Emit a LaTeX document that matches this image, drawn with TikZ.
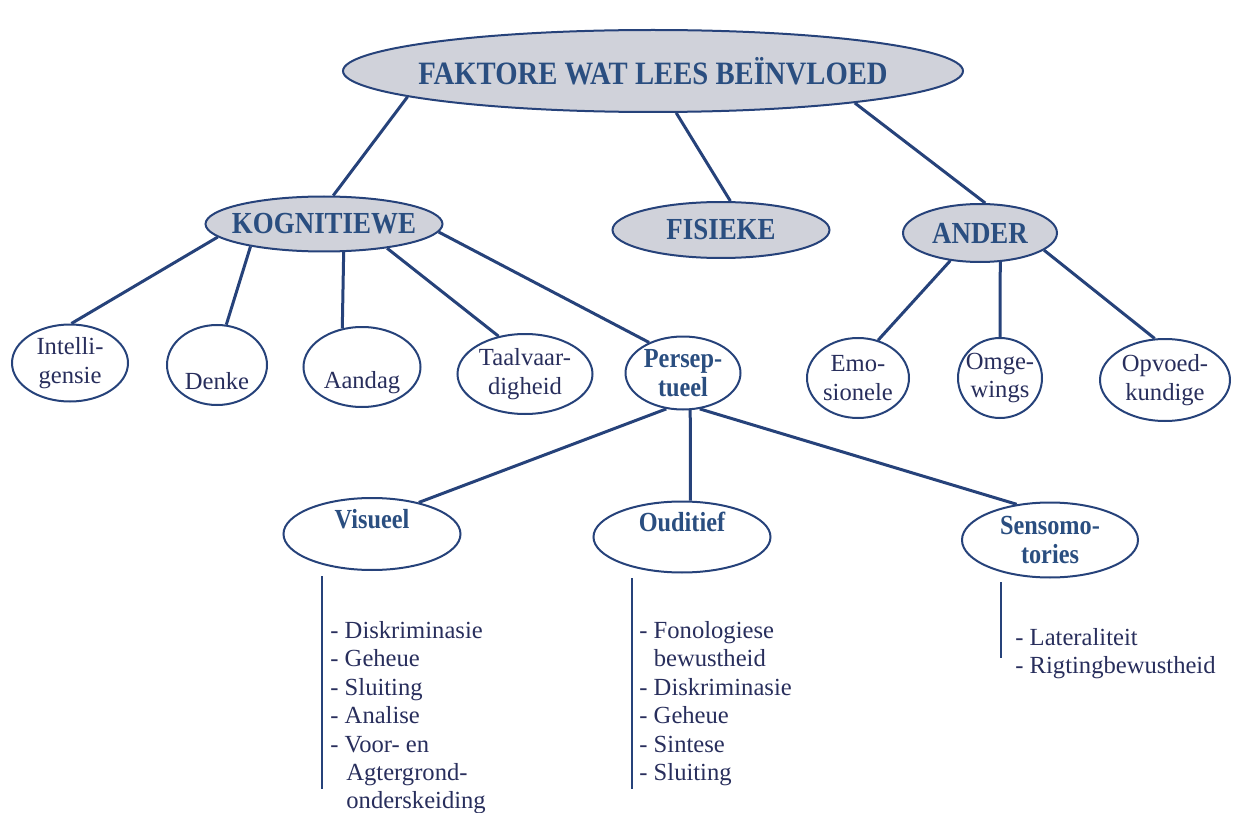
\documentclass[tikz,border=0pt]{standalone}
\usepackage{fontspec}
\setmainfont{Liberation Serif}
\newfontfamily\smal[FakeStretch=0.88]{Liberation Serif}
\usetikzlibrary{shapes.geometric}
\definecolor{lyn}{RGB}{38,66,122}
\definecolor{ink}{RGB}{40,46,92}
\definecolor{kop}{RGB}{42,78,128}
\definecolor{stip}{RGB}{208,210,218}
\tikzset{
  oval/.style={ellipse, draw=lyn, line width=1pt, inner sep=-6pt, align=center,
    text=ink, font=\fontsize{12.3}{14.2}\selectfont},
  kopoval/.style={oval, fill=stip, text=kop, font=\smal\fontsize{15.3}{17}\selectfont\bfseries},
  vet/.style={text=kop, font=\smal\fontsize{13.8}{14.2}\selectfont\bfseries},
  lys/.style={anchor=north west, inner sep=0pt, align=left, text=ink,
    font=\fontsize{12.3}{14.2}\selectfont},
  tak/.style={draw=lyn, line width=1.5pt}
}
\begin{document}
\begin{tikzpicture}[x=0.5pt, y=-0.5pt]
  \useasboundingbox (0,0) rectangle (1233,813);
  % top levels
  \node[kopoval, minimum width=310pt, minimum height=41pt, inner xsep=-20pt,
    font=\smal\fontsize{16.3}{18}\selectfont\bfseries] (main) at (653,71) {FAKTORE WAT LEES BEÏNVLOED};
  \node[kopoval, minimum width=118.5pt, minimum height=27.5pt] (kog) at (324,224) {KOGNITIEWE};
  \node[kopoval, minimum width=108.5pt, minimum height=28pt] (fis) at (721,230) {FISIEKE};
  \node[kopoval, minimum width=77pt, minimum height=29pt] (ander) at (980,233) {ANDER};
  \draw[tak] (main.186) -- (kog.72);
  \draw[tak] (main.299) -- (fis.72);
  \draw[tak] (main.-9) -- (ander.80);
  % kognitiewe en ander
  \node[oval, minimum width=58pt, minimum height=38.5pt] (intel) at (70,363) {Intelli-\\gensie};
  \node[oval, minimum width=50pt, minimum height=40pt] (denk) at (217,365) {\strut\\Denke};
  \node[oval, minimum width=58.5pt, minimum height=40pt] (aand) at (362,367) {\strut\\Aandag};
  \node[oval, minimum width=67.5pt, minimum height=40pt] (taal) at (525,374) {Taalvaar-\\digheid};
  \node[oval, vet, minimum width=57.5pt, minimum height=36.5pt] (pers) at (683,373) {Persep-\\tueel};
  \node[oval, minimum width=51pt, minimum height=40pt] (emo) at (858,378) {Emo-\\sionele};
  \node[oval, minimum width=42pt, minimum height=40pt] (omge) at (1000,378) {Omge-\\wings};
  \node[oval, minimum width=65pt, minimum height=41pt] (opv) at (1165,380) {Opvoed-\\kundige};
  \draw[tak] (kog.187) -- (intel.88);
  \draw[tak] (kog.197) -- (denk.77);
  \draw[tak] (kog.305) -- (aand.117);
  \draw[tak] (kog.339) -- (taal.125);
  \draw[tak] (kog.356) -- (pers.138);
  \draw[tak] (ander.223) -- (emo.62);
  \draw[tak] (ander.305) -- (omge.90);
  \draw[tak] (ander.345) -- (opv.104);
  % persepsie
  \node[oval, vet, minimum width=88.5pt, minimum height=36pt] (vis) at (372,534) {Visueel\\[-3pt]\strut};
  \node[oval, vet, minimum width=88.5pt, minimum height=35.5pt] (oud) at (682,537) {Ouditief\\[-3pt]\strut};
  \node[oval, vet, minimum width=88pt, minimum height=37.5pt] (sens) at (1050,540) {Sensomo-\\tories};
  \draw[tak] (pers.245) -- (vis.34);
  \draw[tak] (pers.281) -- (oud.77);
  \draw[tak] (pers.295) -- (sens.133);
  % lyste
  \coordinate (vbo) at (322,576); \coordinate (von) at (322,789);
  \coordinate (obo) at (632,578); \coordinate (oon) at (632,789);
  \coordinate (sbo) at (1001,582); \coordinate (son) at (1001,658);
  \draw[lyn, line width=1pt] (vbo) -- (von);
  \draw[lyn, line width=1pt] (obo) -- (oon);
  \draw[lyn, line width=1pt] (sbo) -- (son);
  \node[lys] (vlys) at (330,621) {- Diskriminasie\\- Geheue\\- Sluiting\\- Analise\\- Voor- en\\
    \hspace*{8pt}Agtergrond-\\\hspace*{8pt}onderskeiding};
  \node[lys] (olys) at (639,621) {- Fonologiese\\\hspace*{7.2pt}bewustheid\\- Diskriminasie\\
    - Geheue\\- Sintese\\- Sluiting};
  \node[lys] (slys) at (1015,628) {- Lateraliteit\\- Rigtingbewustheid};
\end{tikzpicture}
\end{document}
